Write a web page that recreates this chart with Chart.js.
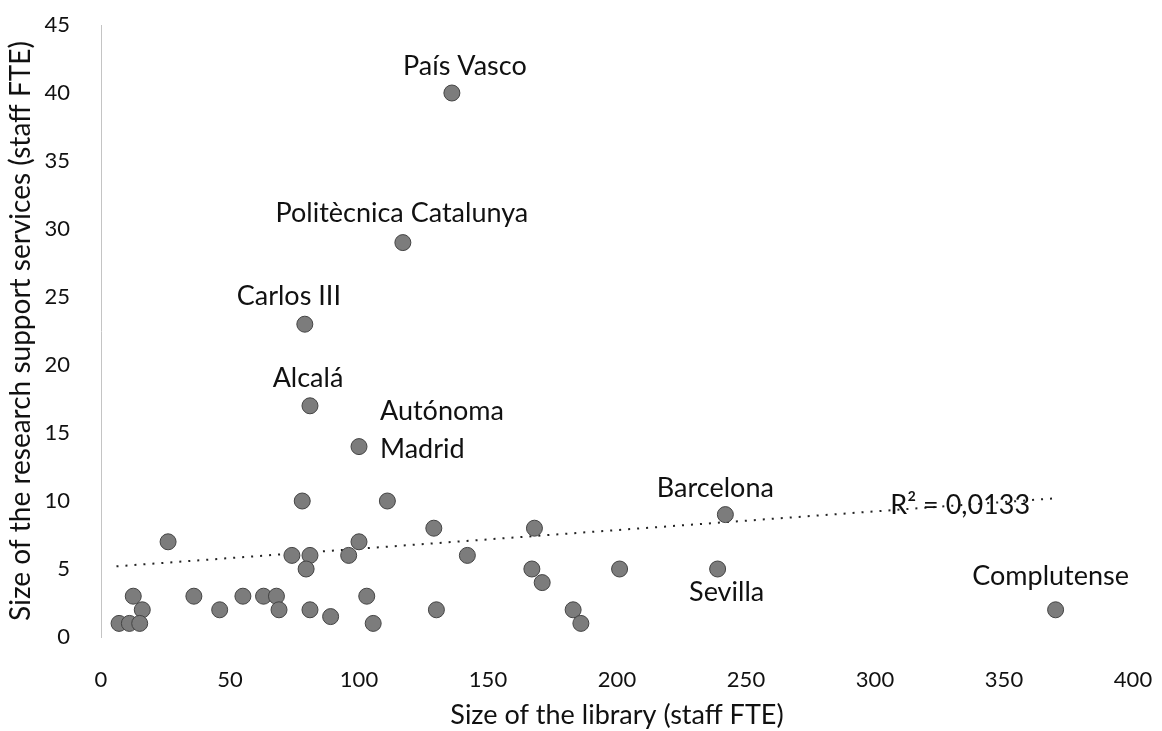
<!DOCTYPE html>
<html>
<head>
<meta charset="utf-8">
<title>Library size vs research support services</title>
<script src="https://cdn.jsdelivr.net/npm/chart.js@4.4.1/dist/chart.umd.min.js"></script>
<style>
  html, body { margin: 0; padding: 0; background: #fff; }
  #wrap { width: 1162px; height: 731px; }
</style>
</head>
<body>
<div id="wrap"><canvas id="chart"></canvas></div>
<script>
// staff FTE of the library (x) and of the research support services (y)
const libSize = [136, 117, 79, 81, 100, 242, 239, 370,
  78, 111, 129, 168, 26, 100, 74, 81, 96, 142, 79.5, 167, 171, 201,
  12.5, 36, 55, 63, 68, 103, 46, 69, 81, 130, 183, 16, 89, 105.5, 186, 7, 11, 15];
const rssSize = [40, 29, 23, 17, 14, 9, 5, 2,
  10, 10, 8, 8, 7, 7, 6, 6, 6, 6, 5, 5, 4, 5,
  3, 3, 3, 3, 3, 3, 2, 2, 2, 2, 2, 2, 1.5, 1, 1, 1, 1, 1];
const pointNames = ['País Vasco', 'Politècnica Catalunya', 'Carlos III', 'Alcalá',
  'Autónoma\nMadrid', 'Barcelona', 'Sevilla', 'Complutense'];

// linear trendline as drawn in the picture (ends)
const trendX = [6, 370];
const trendY = [5.2, 10.2];
const r2Text = 'R² = 0,0133';

const xTicks = [0, 50, 100, 150, 200, 250, 300, 350, 400];
const yTicks = [0, 5, 10, 15, 20, 25, 30, 35, 40, 45];

const FONT = 'Lato, "Open Sans", sans-serif';

// label placement next to each named point (pixel offsets from the marker)
const labelOffsets = {
  'País Vasco': { dx: 13, dy: -27 },
  'Politècnica Catalunya': { dx: -1, dy: -29 },
  'Carlos III': { dx: -16, dy: -28 },
  'Alcalá': { dx: -2, dy: -28 },
  'Autónoma\nMadrid': { dx: 21, dy: -35, align: 'left', lineGap: 38 },
  'Barcelona': { dx: -10, dy: -26 },
  'Sevilla': { dx: 9, dy: 23 },
  'Complutense': { dx: -5, dy: -34 },
};

const pointLabels = {
  id: 'pointLabels',
  afterDatasetsDraw(chart) {
    const ctx = chart.ctx;
    const meta = chart.getDatasetMeta(0);
    ctx.save();
    ctx.font = '27px ' + FONT;
    ctx.fillStyle = '#111';
    ctx.textBaseline = 'middle';
    pointNames.forEach((name, i) => {
      const el = meta.data[i];
      const o = labelOffsets[name];
      if (!el || !o) return;
      ctx.textAlign = o.align || 'center';
      name.split('\n').forEach((line, k) => {
        ctx.fillText(line, el.x + o.dx, el.y + o.dy + k * (o.lineGap || 0));
      });
    });
    // R² next to the end of the trendline
    const xs = chart.scales.x, ys = chart.scales.y;
    ctx.textAlign = 'center';
    ctx.fillText(r2Text, xs.getPixelForValue(333), ys.getPixelForValue(9.7));
    ctx.restore();
  }
};

const scatterData = libSize.map((x, i) => ({ x: x, y: rssSize[i] }));
const trendData = trendX.map((x, i) => ({ x: x, y: trendY[i] }));

const ctx = document.getElementById('chart').getContext('2d');
const chart = new Chart(ctx, {
  type: 'scatter',
  data: {
    datasets: [
      {
        label: 'Universities',
        data: scatterData,
        pointRadius: 8,
        pointHoverRadius: 8,
        backgroundColor: '#7c7c7c',
        borderColor: '#444',
        borderWidth: 1,
        order: 1,
      },
      {
        label: 'Trend',
        type: 'line',
        data: trendData,
        showLine: true,
        fill: false,
        pointRadius: 0,
        borderColor: '#222',
        borderWidth: 2,
        borderDash: [2, 7],
        order: 2,
      },
    ],
  },
  options: {
    responsive: true,
    maintainAspectRatio: false,
    animation: false,
    layout: { padding: { left: 2, right: 29, top: 25, bottom: 0 } },
    plugins: {
      legend: { display: false },
      tooltip: { enabled: false },
    },
    scales: {
      x: {
        type: 'linear',
        min: 0,
        max: 400,
        afterBuildTicks: (s) => { s.ticks = xTicks.map(v => ({ value: v })); },
        grid: { display: false },
        border: { display: false },
        ticks: { color: '#111', font: { family: FONT, size: 22 }, padding: 22, maxRotation: 0 },
        title: {
          display: true,
          text: 'Size of the library (staff FTE)',
          color: '#111',
          font: { family: FONT, size: 27 },
          padding: { top: 0, bottom: 0 },
        },
        afterFit: (s) => { s.height = 94; s.paddingLeft = 0; s.paddingRight = 0; },
      },
      y: {
        type: 'linear',
        min: 0,
        max: 45,
        afterBuildTicks: (s) => { s.ticks = yTicks.map(v => ({ value: v })); },
        grid: { display: false },
        border: { display: true, color: '#c4c4c4', width: 1, dash: [2, 3] },
        ticks: { color: '#111', font: { family: FONT, size: 22 }, padding: 23 },
        title: {
          display: true,
          text: 'Size of the research support services (staff FTE)',
          color: '#111',
          font: { family: FONT, size: 28 },
          padding: { top: 2, bottom: 0 },
        },
        afterFit: (s) => { s.width = 99; s.paddingTop = 0; s.paddingBottom = 0; },
      },
    },
  },
  plugins: [pointLabels],
});
</script>
</body>
</html>
